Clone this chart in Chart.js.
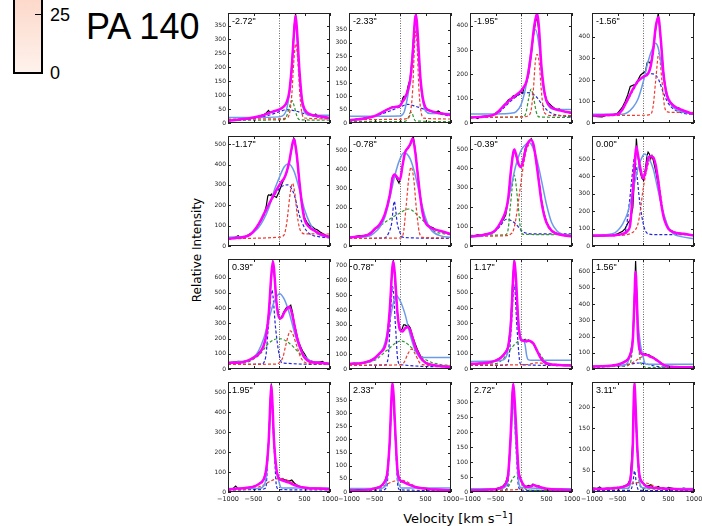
<!DOCTYPE html>
<html>
<head>
<meta charset="utf-8">
<script src="https://cdn.jsdelivr.net/npm/chart.js@4.4.1/dist/chart.umd.min.js"></script>
<style>
  body { margin: 0; background: #fff; }
  #wrap { position: relative; width: 702px; height: 526px; overflow: hidden; background: #fff; }
  #wrap canvas { position: absolute; }
  .txt { position: absolute; white-space: nowrap; line-height: 1; color: #000; }
  .sup { font-size: 9px; line-height: 0; position: relative; top: -5px; }
</style>
</head>
<body>
<div id="wrap">
  <div style="position:absolute;left:13px;top:-10px;width:26px;height:80px;border:2px solid #000;background:linear-gradient(#fcd6c7,#fef2ec);"></div>
  <div style="position:absolute;left:35px;top:14px;width:6px;height:1px;background:#000;"></div>
  <div class="txt" style="left:50px;top:5px;font:18px 'Liberation Sans',sans-serif;">25</div>
  <div class="txt" style="left:50px;top:63px;font:18px 'Liberation Sans',sans-serif;">0</div>
  <div class="txt" style="left:86px;top:6px;font:36px 'Liberation Sans',sans-serif;">PA 140</div>
  <div class="txt" style="left:97px;top:243px;width:200px;height:14px;line-height:14px;text-align:center;font:12px 'DejaVu Sans',sans-serif;transform:rotate(-90deg);">Relative Intensity</div>
  <div class="txt" style="left:358px;top:511px;width:200px;text-align:center;font:13px 'DejaVu Sans',sans-serif;">Velocity [km s<span class="sup">&minus;1</span>]</div>
</div>
<script>
// tick labels and panel offsets
const xTicks = [-1000, -500, 0, 500, 1000];
const panelLabels = ['-2.72"', '-2.33"', '-1.95"', '-1.56"', '-1.17"', '-0.78"', '-0.39"', '0.00"',
                     '0.39"', '0.78"', '1.17"', '1.56"', '1.95"', '2.33"', '2.72"', '3.11"'];
const yMax = [395, 412, 452, 511, 540, 577, 567, 633, 723, 747, 722, 678, 550, 419, 367, 259];
const yStep = [50, 50, 100, 100, 100, 100, 100, 100, 100, 100, 100, 100, 100, 50, 50, 50];

// observed spectrum (black), velocity,intensity pairs
const dataLine = [
  [-1000,8,-900,10,-800,12,-700,14,-600,15,-500,18,-400,24,-300,30,-250,36,-205,45,-180,38,-100,42,-50,45,0,48,50,52,100,60,150,70,200,100,250,190,280,290,300,350,325,392,350,330,375,250,400,180,430,110,460,65,500,45,550,35,600,30,650,27,700,29,720,32,750,27,800,24,900,22,1000,18],
  [-1000,10,-900,12,-860,15,-800,14,-700,18,-600,22,-500,25,-450,30,-400,32,-350,40,-300,45,-265,50,-200,55,-150,60,-100,58,-66,60,0,65,30,75,60,95,80,100,100,95,130,110,160,140,200,165,240,240,270,330,300,400,315,405,340,330,365,260,400,160,430,105,470,70,500,55,550,50,600,45,650,42,700,40,750,45,800,38,900,33,1000,30],
  [-1000,20,-900,24,-850,18,-800,26,-700,28,-600,30,-550,32,-500,40,-450,48,-400,58,-350,70,-300,80,-250,95,-200,100,-150,112,-100,108,-50,120,0,128,30,122,60,145,100,160,150,200,200,280,250,370,290,420,320,430,350,380,380,280,400,230,450,135,500,95,550,80,600,70,650,62,700,55,750,58,800,50,850,48,900,45,1000,40],
  [-1000,34,-900,30,-800,28,-700,37,-600,38,-500,45,-450,60,-400,75,-350,100,-300,130,-250,170,-200,175,-150,180,-100,200,-50,222,0,232,50,240,80,280,110,285,150,275,200,330,250,440,300,510,350,380,400,240,450,140,500,105,550,95,600,80,650,72,700,70,750,60,800,55,900,48,1000,40],
  [-1000,35,-900,38,-800,50,-750,40,-700,42,-600,55,-500,70,-450,85,-400,105,-350,125,-300,150,-250,195,-220,245,-200,252,-170,248,-150,255,-120,240,-100,245,-50,238,0,265,50,300,100,330,150,360,200,410,250,480,290,530,310,520,350,440,400,310,450,200,500,140,550,115,600,100,650,95,700,85,750,80,800,70,850,62,900,55,1000,45],
  [-1000,45,-900,48,-800,55,-700,55,-600,62,-500,85,-400,110,-350,130,-300,160,-250,210,-200,270,-150,360,-120,375,-90,370,-60,350,-20,330,20,370,60,440,100,490,130,510,170,520,200,530,240,560,260,577,300,500,340,400,380,300,420,220,460,160,500,125,550,110,600,100,650,95,700,85,750,80,800,78,900,70,1000,60],
  [-1000,48,-900,52,-850,58,-800,55,-700,62,-600,66,-500,80,-450,95,-400,120,-350,135,-300,160,-250,240,-200,380,-160,480,-130,495,-100,470,-50,420,0,405,40,440,80,500,120,520,160,540,200,553,240,530,280,470,320,400,360,320,400,240,450,170,500,125,550,95,600,80,650,70,700,65,750,62,800,58,900,54,1000,50],
  [-1000,55,-900,58,-800,58,-700,60,-600,62,-500,70,-400,85,-350,100,-300,130,-250,150,-200,220,-170,380,-150,460,-130,618,-110,540,-80,480,-50,420,-20,390,10,378,50,450,80,520,100,540,125,530,150,500,175,520,200,495,250,430,300,350,350,250,400,175,450,130,500,100,550,90,600,80,700,75,800,70,900,65,1000,60],
  [-1000,40,-900,45,-800,50,-700,48,-600,57,-500,75,-450,90,-400,110,-350,115,-300,150,-250,220,-200,370,-150,610,-120,700,-100,650,-50,440,0,340,30,330,60,350,100,380,150,405,200,410,230,420,260,380,300,300,340,240,380,180,420,150,460,120,500,100,550,70,600,55,700,45,800,45,850,50,900,40,1000,35],
  [-1000,35,-900,40,-800,38,-700,45,-600,55,-500,75,-450,90,-400,105,-300,150,-250,220,-200,400,-160,650,-130,735,-110,660,-80,500,-50,380,-20,290,10,260,40,270,70,300,100,300,130,290,160,300,200,280,250,220,300,170,350,125,400,90,450,60,500,45,600,30,700,25,800,20,1000,15],
  [-1000,32,-900,35,-800,38,-700,36,-600,45,-500,55,-400,75,-300,110,-250,150,-200,290,-160,600,-130,715,-110,640,-80,420,-50,280,-20,210,10,190,40,185,80,195,110,180,150,190,200,178,250,160,300,125,330,110,360,85,400,62,450,45,500,35,550,30,600,28,700,22,800,25,900,28,1000,22],
  [-1000,15,-900,18,-800,17,-700,20,-600,22,-500,28,-400,38,-300,60,-250,90,-200,180,-170,420,-145,665,-120,430,-100,220,-70,130,-50,105,-20,95,10,90,50,95,80,88,110,88,150,80,200,72,250,62,300,50,350,38,400,28,450,22,500,16,600,14,700,12,800,12,1000,10],
  [-1000,15,-900,18,-850,30,-800,17,-700,20,-600,22,-500,28,-450,32,-400,40,-350,50,-300,62,-250,110,-200,260,-170,460,-150,542,-130,440,-100,270,-70,150,-50,110,-20,80,0,70,30,62,60,68,100,62,150,58,200,55,250,60,300,45,350,35,400,28,500,22,600,18,700,20,800,16,900,15,1000,15],
  [-1000,8,-900,7,-800,10,-700,9,-600,12,-500,15,-450,18,-400,20,-350,28,-300,40,-250,70,-200,190,-170,340,-145,410,-120,340,-100,250,-70,140,-50,85,-20,55,0,48,30,40,60,42,100,36,150,30,200,27,250,24,300,20,350,17,400,16,500,12,600,11,700,10,800,9,1000,8],
  [-1000,8,-900,10,-800,6,-700,9,-600,10,-500,11,-400,16,-350,20,-300,30,-250,60,-200,190,-170,330,-152,360,-130,310,-100,225,-70,130,-50,75,-20,50,0,38,50,22,100,18,150,22,200,20,230,26,260,25,300,18,350,20,400,15,450,12,500,10,600,9,700,7,800,9,1000,7],
  [-1000,10,-900,8,-850,12,-800,7,-700,9,-600,8,-500,11,-450,9,-400,13,-350,15,-300,18,-250,30,-200,120,-185,200,-165,258,-145,190,-110,100,-70,40,-40,28,0,22,50,16,100,14,150,17,200,11,250,10,300,13,350,9,400,10,450,7,500,11,600,8,700,6,800,9,900,6,1000,8]
];

// total fit (magenta)
const fitLine = [
  [-1000,8,-700,14,-500,20,-300,28,-200,36,-100,42,0,48,100,60,150,75,200,110,250,200,300,340,325,385,350,340,400,190,450,85,500,50,600,32,800,24,1000,18],
  [-1000,10,-700,17,-500,26,-300,45,-200,55,-100,60,0,65,50,80,100,95,150,120,200,160,250,260,290,380,310,405,330,380,370,260,400,170,450,90,500,58,600,45,800,36,1000,30],
  [-1000,23,-700,27,-500,37,-400,57,-300,78,-200,98,-100,114,0,132,50,146,100,166,150,214,200,288,250,384,300,441,320,449,350,397,400,234,450,139,500,91,600,64,800,50,1000,41],
  [-1000,34,-700,37,-500,41,-400,64,-300,110,-200,156,-100,194,0,214,100,229,150,263,200,340,250,447,300,492,350,385,400,232,450,148,500,110,600,80,800,57,1000,41],
  [-1000,35,-800,40,-600,51,-500,72,-400,107,-300,155,-200,204,-100,252,0,296,50,316,100,332,150,364,200,413,250,484,290,524,300,521,350,444,400,316,450,204,500,131,600,91,700,75,800,59,1000,43],
  [-1000,45,-800,50,-600,62,-500,88,-400,113,-300,165,-200,268,-150,354,-100,375,-50,357,0,348,50,423,100,491,150,512,200,534,250,564,300,491,350,371,400,251,450,165,500,122,600,96,800,79,1000,62],
  [-1000,49,-800,54,-600,66,-500,82,-400,121,-300,180,-250,247,-200,382,-150,483,-130,497,-100,475,-50,424,0,407,50,449,100,508,150,537,200,547,250,517,300,433,350,332,400,231,450,163,500,121,600,79,800,57,1000,50],
  [-1000,60,-600,60,-500,64,-400,70,-300,88,-250,126,-200,314,-150,526,-130,573,-100,526,-50,445,0,389,50,427,100,502,150,517,200,511,250,464,300,370,350,258,400,173,450,126,500,98,600,79,800,70,1000,60],
  [-1000,41,-800,41,-600,57,-500,75,-400,98,-300,155,-250,223,-200,370,-150,620,-120,707,-100,666,-50,439,0,336,50,336,100,370,150,393,200,409,250,370,300,291,350,211,400,155,450,109,500,75,600,48,800,41,1000,34],
  [-1000,35,-800,38,-600,54,-500,73,-400,106,-300,148,-250,218,-200,406,-150,688,-130,730,-100,641,-50,383,0,265,50,254,100,277,150,284,200,265,250,207,300,148,350,113,400,78,500,42,600,31,800,19,1000,14],
  [-1000,34,-800,36,-600,44,-500,55,-400,72,-300,110,-250,150,-200,285,-150,625,-130,712,-100,600,-50,290,0,192,50,185,100,182,150,185,200,180,250,165,300,130,350,95,400,65,450,48,500,38,600,30,800,25,1000,22],
  [-1000,15,-800,17,-600,22,-500,26,-400,38,-300,58,-250,90,-200,178,-170,400,-145,600,-120,420,-100,221,-50,102,0,91,50,88,100,84,150,74,200,69,250,58,300,48,400,26,500,15,600,13,800,11,1000,11],
  [-1000,13,-800,17,-600,22,-500,27,-400,39,-300,64,-250,114,-200,265,-170,450,-150,534,-130,450,-100,265,-50,114,0,67,50,60,100,55,200,47,300,35,400,27,500,22,600,18,800,17,1000,13],
  [-1000,6,-800,6,-600,9,-500,13,-400,19,-300,39,-250,71,-200,200,-170,350,-145,415,-120,350,-100,264,-50,84,0,45,50,39,100,35,200,26,300,19,400,15,500,13,600,10,800,9,1000,6],
  [-1000,6,-800,6,-600,8,-500,9,-400,14,-300,28,-250,62,-200,198,-170,320,-152,361,-130,320,-100,231,-50,73,0,40,50,23,100,17,200,19,250,23,300,20,400,15,500,11,600,9,800,8,1000,6],
  [-1000,7,-800,7,-600,9,-500,10,-400,12,-300,17,-250,29,-200,110,-185,200,-165,256,-145,200,-110,100,-70,40,0,21,50,15,100,12,200,10,400,8,600,7,800,6,1000,6]
];

// single broad fit (light blue)
const broadLine = [
  [-1000,20,-500,20,0,22,100,30,150,50,200,100,250,210,300,330,325,360,350,330,400,180,450,80,500,40,600,28,1000,28],
  [-1000,25,-500,25,0,26,80,40,120,70,160,110,200,170,250,280,300,380,310,395,330,370,370,250,400,160,450,80,500,45,600,36,1000,36],
  [-1000,37,-300,38,-200,40,-100,46,0,75,100,155,200,302,284,384,363,302,430,152,528,75,600,58,700,55,1000,55],
  [-1000,41,-400,41,-300,49,-200,72,-100,110,0,187,100,286,200,355,240,370,300,347,400,217,500,110,600,72,700,57,1000,41],
  [-1000,43,-600,51,-500,67,-400,91,-300,131,-200,187,-100,268,0,332,100,388,185,404,300,364,400,276,500,179,600,115,700,75,800,54,1000,43],
  [-1000,45,-600,53,-500,70,-400,96,-300,148,-200,251,-100,371,0,457,80,491,200,457,300,371,400,251,500,148,600,88,800,53,1000,45],
  [-1000,45,-600,62,-500,79,-400,121,-300,180,-200,298,-100,416,0,492,100,525,145,534,200,525,300,458,400,340,500,214,600,121,700,79,800,62,1000,49],
  [-1000,60,-600,70,-500,88,-400,126,-300,192,-200,314,-100,445,0,521,33,530,100,511,200,445,300,314,400,192,500,107,600,70,800,51,1000,41],
  [-1000,41,-600,57,-500,75,-400,120,-300,200,-200,325,-100,439,13,495,100,461,200,370,300,245,400,143,500,86,600,57,800,41,1000,34],
  [-1000,35,-600,49,-500,66,-400,101,-300,171,-200,336,-100,489,-80,500,0,465,100,371,200,230,300,125,400,82,500,78,1000,78],
  [-1000,50,-500,52,-350,60,-270,102,-200,327,-150,600,-130,640,-100,560,-50,320,0,200,50,190,80,160,110,90,140,62,200,58,1000,58],
  [-1000,19,-400,20,-300,40,-250,90,-200,200,-145,560,-100,300,-50,150,0,80,30,40,60,30,1000,30],
  [-1000,17,-400,18,-300,30,-250,80,-200,250,-150,500,-100,260,-50,110,0,50,30,25,60,20,1000,20],
  [-1000,13,-400,13,-300,20,-250,60,-200,190,-145,390,-100,250,-50,60,0,20,30,15,1000,15],
  [-1000,11,-400,11,-300,18,-250,50,-200,170,-152,300,-100,170,-50,40,0,15,1000,11],
  [-1000,8,-300,9,-250,20,-200,100,-165,245,-110,100,-60,20,0,10,1000,8]
];

// gaussian components (dashed)
const redComp = [
  [-1000,14,0,15,150,18,200,30,250,100,290,220,330,285,370,220,410,100,450,35,500,18,1000,15],
  [-1000,12,0,14,150,18,200,35,250,130,280,270,310,345,340,270,370,130,420,35,470,18,1000,15],
  [-1000,23,0,25,150,30,200,55,244,141,280,250,317,282,355,250,396,141,440,55,500,35,600,30,1000,30],
  [-1000,34,0,36,150,40,200,80,250,200,310,324,370,200,420,80,480,52,600,49,1000,49],
  [-1000,35,-500,38,0,43,100,55,150,110,172,154,220,260,264,308,310,260,356,154,400,90,450,65,500,60,1000,59],
  [-1000,40,0,42,60,60,120,207,170,350,218,414,270,350,317,207,380,70,450,45,1000,42],
  [-1000,50,-300,53,-200,62,-150,80,-100,140,-50,230,0,330,50,420,100,490,150,520,200,525,250,495,300,425,350,330,400,230,450,160,500,115,600,75,800,55,1000,50],
  [-1000,60,-400,62,-264,70,-165,88,-100,126,-53,201,0,323,100,470,198,511,297,389,396,201,495,107,600,79,800,66,1000,65],
  [-1000,30,-100,32,0,40,80,80,125,145,224,250,356,145,420,80,500,45,600,35,1000,32],
  [-1000,25,0,28,80,45,150,100,231,135,300,100,380,45,450,30,1000,20],
  [-1000,25,-200,27,0,28,150,30,300,40,400,38,500,30,1000,25],
  [-1000,15,-500,17,-300,25,-200,40,-100,60,0,78,80,85,150,80,250,60,350,35,450,20,600,15,1000,13],
  [-1000,10,-600,15,-400,25,-300,35,-200,50,-100,62,0,68,100,65,200,55,300,42,400,30,500,22,600,17,1000,13],
  [-1000,5,-600,8,-400,15,-300,25,-200,35,-100,42,0,45,100,42,200,32,300,22,400,15,600,9,1000,6],
  [-1000,6,-200,7,0,10,100,15,200,20,250,21,300,19,400,12,500,8,1000,6],
  [-1000,6,-400,10,-300,15,-200,20,-100,22,0,22,100,20,200,15,300,10,500,7,1000,6]
];
const greenComp = [
  [-1000,10,100,12,150,25,200,55,255,80,300,60,350,25,400,12,1000,10],
  [-1000,5,100,6,150,15,200,38,230,40,260,25,300,8,1000,5],
  [-1000,23,50,25,100,45,150,100,198,139,250,100,300,45,350,25,1000,23],
  [],
  [],
  [-1000,45,-700,55,-530,79,-265,130,0,173,165,194,396,148,660,79,924,62,1000,58],
  [-1000,55,-300,58,-250,90,-211,200,-132,365,-53,200,-10,90,50,60,1000,58],
  [],
  [-1000,30,-700,40,-568,52,-370,98,-200,170,0,200,200,170,422,98,620,48,800,38,1000,34],
  [-1000,25,-700,40,-462,66,-264,125,20,190,330,113,528,59,800,30,1000,25],
  [-1000,30,-500,35,-363,61,-264,102,-165,147,20,192,231,169,363,102,495,45,600,32,1000,28],
  [-1000,15,-400,16,-280,25,-220,90,-180,300,-145,580,-110,300,-70,90,0,20,100,9,1000,8],
  [],
  [],
  [-1000,5,-300,6,-231,23,-150,48,-79,56,0,35,60,15,150,6,1000,5],
  [-1000,6,-300,8,-250,20,-200,110,-165,240,-120,110,-70,20,0,8,1000,6]
];
const blueComp = [
  [-1000,8,-500,15,-200,28,0,40,150,48,300,44,450,36,600,28,800,20,1000,15],
  [-1000,10,-500,25,-200,45,0,60,150,70,300,63,500,50,700,38,1000,25],
  [-1000,23,-500,35,-300,70,-200,90,-100,108,0,120,100,125,200,122,300,108,400,80,500,55,600,40,800,30,1000,25],
  [-1000,34,-600,38,-500,45,-400,65,-300,105,-200,150,-100,190,0,215,100,230,200,228,300,205,400,140,500,90,600,65,800,45,1000,40],
  [-1000,35,-600,50,-500,70,-400,105,-300,150,-200,200,-100,245,0,280,100,298,170,300,250,280,300,250,350,200,400,150,500,90,600,60,800,45,1000,40],
  [-1000,40,-300,42,-220,70,-165,117,-112,234,-53,117,0,70,60,45,1000,40],
  [-1000,50,-760,54,-560,66,-430,96,-284,138,-100,113,0,82,100,66,300,62,1000,62],
  [-1000,60,-450,62,-350,80,-265,255,-200,440,-165,511,-130,440,-65,255,20,110,100,70,300,65,1000,65],
  [-1000,30,-350,32,-260,80,-214,259,-139,518,-64,259,0,100,60,40,1000,30],
  [-1000,25,-300,27,-230,80,-198,280,-145,559,-86,280,-50,80,0,30,1000,15],
  [-1000,23,-300,25,-240,60,-190,277,-132,553,-80,277,-30,60,0,28,1000,23],
  [-1000,12,-500,18,-300,28,-150,35,-65,37,50,32,200,20,400,12,1000,10],
  [-1000,10,-400,12,-260,20,-207,233,-152,466,-97,233,-50,30,0,12,1000,10],
  [-1000,6,-350,7,-260,20,-200,200,-145,400,-90,200,-40,20,0,8,1000,6],
  [-1000,5,-320,6,-260,20,-210,155,-152,310,-100,155,-50,20,0,6,1000,5],
  [-1000,3,-250,4,-200,20,-165,50,-130,20,-80,4,1000,3]
];

const colLeft = [228, 349, 470, 592];
const rowTop = [13, 136, 259, 382];
const plotW = 102, plotH = 110;
const tickFont = '"DejaVu Sans", sans-serif';

function pts(a) {
    const out = [];
    for (let i = 0; i < a.length; i += 2) out.push({ x: a[i], y: a[i + 1] });
    return out;
}

function line(a, color, width, dash, order, smooth) {
    return {
        data: pts(a),
        borderColor: color,
        borderWidth: width,
        borderDash: dash,
        pointRadius: 0,
        fill: false,
        tension: 0,
        cubicInterpolationMode: smooth ? 'monotone' : 'default',
        order: order
    };
}

// frame, inward ticks, zero line and panel label
const panelDecor = {
    id: 'panelDecor',
    beforeDatasetsDraw(chart) {
        const ctx = chart.ctx, a = chart.chartArea;
        const x0 = Math.round(chart.scales.x.getPixelForValue(0)) + 0.5;
        ctx.save();
        ctx.strokeStyle = '#666';
        ctx.lineWidth = 1;
        ctx.setLineDash([1, 1.5]);
        ctx.beginPath();
        ctx.moveTo(x0, a.top);
        ctx.lineTo(x0, a.bottom);
        ctx.stroke();
        ctx.restore();
    },
    afterDraw(chart) {
        const ctx = chart.ctx, a = chart.chartArea;
        const xs = chart.scales.x, ys = chart.scales.y;
        ctx.save();
        ctx.strokeStyle = '#222';
        ctx.lineWidth = 1;
        ctx.strokeRect(Math.round(a.left) + 0.5, Math.round(a.top) + 0.5,
                       Math.round(a.right - a.left) - 1, Math.round(a.bottom - a.top) - 1);
        ctx.beginPath();
        xTicks.forEach(v => {
            const px = Math.round(xs.getPixelForValue(v)) + 0.5;
            ctx.moveTo(px, a.bottom); ctx.lineTo(px, a.bottom - 3);
            ctx.moveTo(px, a.top); ctx.lineTo(px, a.top + 3);
        });
        ys.ticks.forEach(t => {
            const py = Math.round(ys.getPixelForValue(t.value)) + 0.5;
            ctx.moveTo(a.left, py); ctx.lineTo(a.left + 3, py);
            ctx.moveTo(a.right, py); ctx.lineTo(a.right - 3, py);
        });
        ctx.stroke();
        ctx.fillStyle = '#000';
        ctx.font = '9px "Liberation Sans", sans-serif';
        ctx.textBaseline = 'alphabetic';
        ctx.fillText(chart.options.plugins.panelDecor.label, a.left + 4, a.top + 10.5);
        ctx.restore();
    }
};

const wrap = document.getElementById('wrap');

panelLabels.forEach((label, i) => {
    const col = i % 4, row = Math.floor(i / 4);
    const bottomRow = row === 3;
    const canvas = document.createElement('canvas');
    const cw = plotW + 26 + 16, ch = plotH + 6 + (bottomRow ? 14 : 6);
    canvas.width = cw;
    canvas.height = ch;
    canvas.style.left = (colLeft[col] - 26) + 'px';
    canvas.style.top = (rowTop[row] - 6) + 'px';
    canvas.style.width = cw + 'px';
    canvas.style.height = ch + 'px';
    wrap.appendChild(canvas);

    const step = yStep[i];
    const datasets = [
        line(fitLine[i], '#ff00ff', 2.5, [], 0, true),
        line(broadLine[i], '#6b9be8', 1.5, [], 1, true),
        line(redComp[i], '#ee3b30', 1.2, [3, 2], 2, true),
        line(greenComp[i], '#2f962f', 1.2, [3, 2], 3, true),
        line(blueComp[i], '#2424dc', 1.2, [3, 2], 4, true),
        line(dataLine[i], '#000000', 1.2, [], 5, false)
    ];

    new Chart(canvas, {
        type: 'line',
        data: { datasets },
        options: {
            responsive: false,
            animation: false,
            devicePixelRatio: 1,
            layout: { padding: { left: 0, top: 6, right: 16, bottom: bottomRow ? 0 : 6 } },
            plugins: {
                legend: { display: false },
                tooltip: { enabled: false },
                panelDecor: { label: label }
            },
            scales: {
                x: {
                    type: 'linear',
                    min: -1000,
                    max: 1000,
                    grid: { display: false, drawTicks: false },
                    border: { display: false },
                    ticks: {
                        display: bottomRow,
                        stepSize: 500,
                        autoSkip: false,
                        maxRotation: 0,
                        padding: 3,
                        color: '#222',
                        font: { family: tickFont, size: 6.5 },
                        callback: v => v < 0 ? '\u2212' + Math.abs(v) : String(v)
                    },
                    afterFit: s => {
                        s.height = bottomRow ? 14 : 0;
                        s.paddingLeft = 0;
                        s.paddingRight = 0;
                    }
                },
                y: {
                    min: 0,
                    max: yMax[i],
                    grid: { display: false, drawTicks: false },
                    border: { display: false },
                    afterBuildTicks: s => {
                        s.ticks = s.ticks.filter(t => t.value % step === 0);
                    },
                    ticks: {
                        stepSize: step,
                        padding: 2,
                        color: '#222',
                        font: { family: tickFont, size: 6 }
                    },
                    afterFit: s => {
                        s.width = 26;
                        s.paddingTop = 0;
                        s.paddingBottom = 0;
                    }
                }
            }
        },
        plugins: [panelDecor]
    });
});
</script>
</body>
</html>
